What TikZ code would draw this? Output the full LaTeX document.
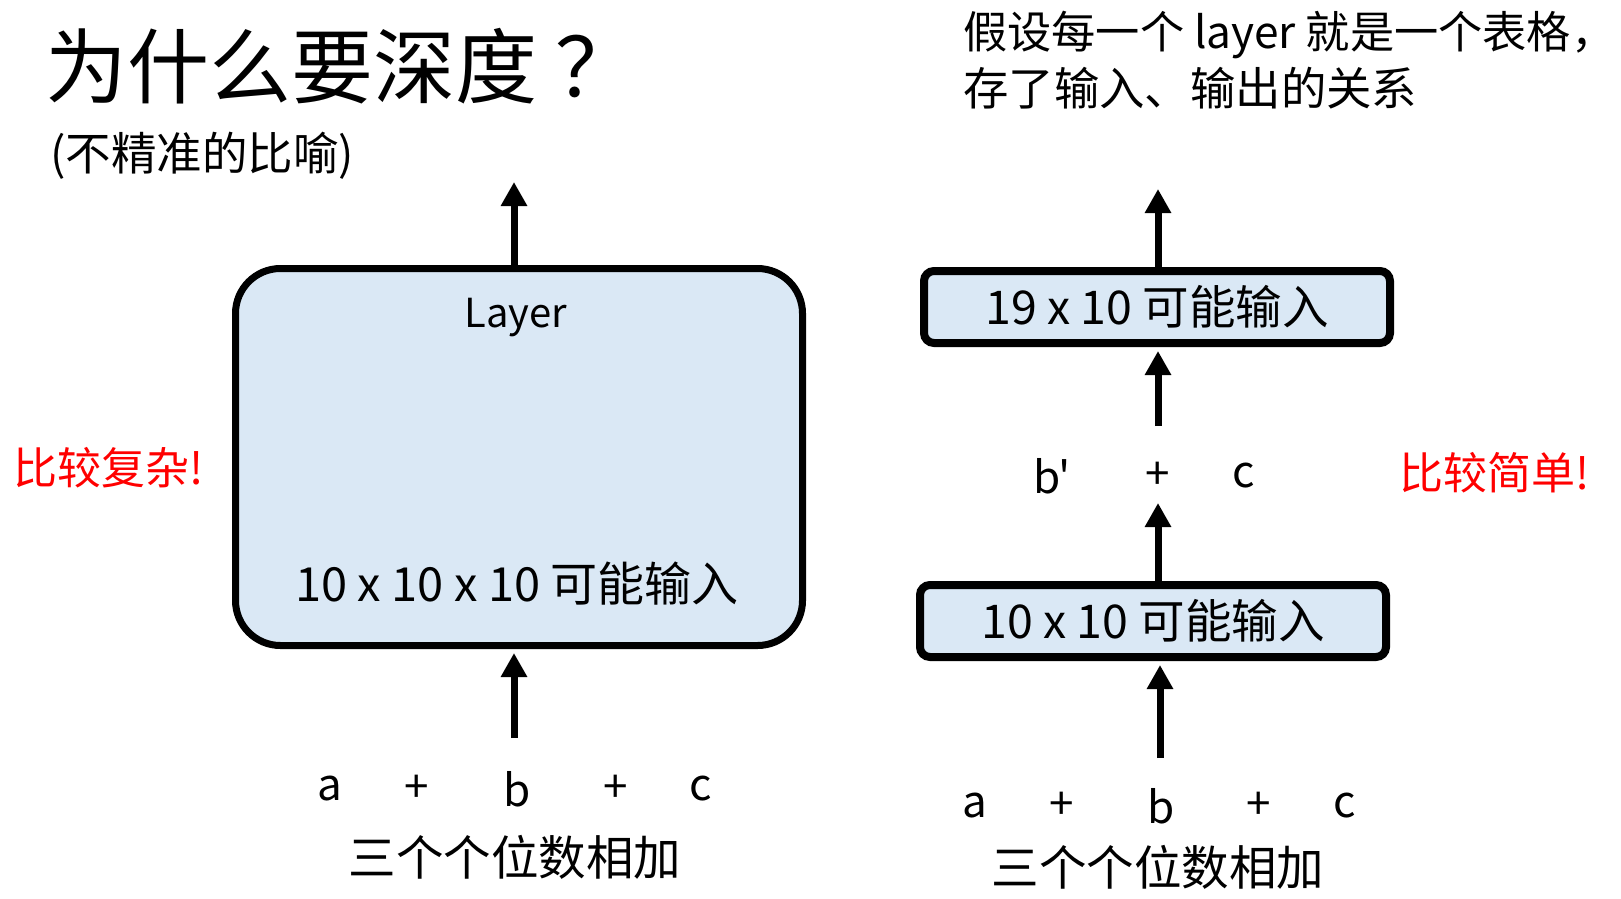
\documentclass[tikz,border=0pt]{standalone}
\usepackage{fontspec}
\setmainfont{Noto Sans CJK SC}
\newfontfamily\rawfont{Noto Sans CJK SC}
\usetikzlibrary{arrows.meta,positioning}
\definecolor{boxblue}{HTML}{DAE8F5}
\newcommand{\fs}[1]{\fontsize{#1}{1.2\dimexpr#1pt\relax}\selectfont}

\tikzset{
  layerbox/.style={draw=black, line width=7pt, fill=boxblue, rounded corners=45pt,
    minimum width=567pt, minimum height=377pt},
  tablebox/.style={draw=black, line width=8pt, fill=boxblue, rounded corners=10pt,
    minimum width=466pt, minimum height=72pt, font=\fs{46.5}},
  uparrow/.style={line width=7pt, -{Triangle[width=25pt,length=24pt]}},
  sumtext/.style={font=\fs{44}, inner sep=0pt},
  note/.style={text=red, font=\fs{44}, inner sep=0pt},
}

\begin{document}
\begin{tikzpicture}[x=1pt,y=-1pt]
    \useasboundingbox (0,0) rectangle (1621,898);

    % Title
    \node[font=\fs{82}, anchor=west, inner sep=0pt] (title) at (45,66) {为什么要深度\hspace{18pt}？};
    \node[font=\fs{45.5}, anchor=west, inner sep=0pt] (subtitle) at (50,156) {(不精准的比喻)};
    \node[font=\fs{44.2}, anchor=west, inner sep=0pt] (line1) at (963,35) {假设每一个 layer 就是一个表格\makebox[0.3em][l]{，}};
    \node[font=\fs{45.4}, anchor=west, inner sep=0pt] (line2) at (963,88) {存了输入、输出的关系};

    % Left: one big layer
    \node[layerbox] (layer) at (519,457) {};
    \node[font=\fs{40}, inner sep=0pt] (layername) at (516,318) {Layer};
    \node[sumtext, font=\fs{47}] (bigtable) at (517,584) {10 x 10 x 10 可能输入};
    \coordinate (ltop) at (514,182);
    \coordinate (lin) at (514,738);
    \draw[uparrow] (ltop |- layer.north) -- (ltop);
    \draw[uparrow] (lin) -- ([yshift=-4pt]lin |- layer.south);

    \node[sumtext] (la) at (330,789) {a};
    \node[sumtext] (lp1) at (417,789) {+};
    \node[sumtext] (lb) at (517,789) {b};
    \node[sumtext] (lp2) at (616,789) {+};
    \node[sumtext] (lc) at (701,789) {c};
    \node[sumtext, font=\fs{47.5}] (ldigits) at (515,857) {三个个位数相加};

    \node[note] (hard) at (109,468) {比较复杂!};

    % Right: two small tables
    \node[tablebox] (tableA) at (1153,621) {10 x 10 可能输入};
    \node[tablebox] (tableB) at (1157,307) {19 x 10 可能输入};
    \node[sumtext] (rb2) at (1052,476) {\rawfont b'};
    \node[sumtext] (rp) at (1158,476) {+};
    \node[sumtext] (rc2) at (1244,476) {c};
    \coordinate (rtop) at (1158,189);
    \coordinate (rmidA) at (1158,503);
    \coordinate (rmidB) at (1158,426);
    \coordinate (rin) at (1160,758);
    \draw[uparrow] (rtop |- tableB.north) -- (rtop);
    \draw[uparrow] (rmidB) -- ([yshift=-4pt]rmidB |- tableB.south);
    \draw[uparrow] (rmidA |- tableA.north) -- (rmidA);
    \draw[uparrow] (rin) -- ([yshift=-4pt]rin |- tableA.south);

    \node[sumtext] (ra) at (975,806) {a};
    \node[sumtext] (rp1) at (1062,806) {+};
    \node[sumtext] (rb) at (1161,806) {b};
    \node[sumtext] (rp2) at (1259,806) {+};
    \node[sumtext] (rc) at (1345,806) {c};
    \node[sumtext, font=\fs{47.5}] (rdigits) at (1158,867) {三个个位数相加};

    \node[note] (easy) at (1495,473) {比较简单!};
\end{tikzpicture}
\end{document}
